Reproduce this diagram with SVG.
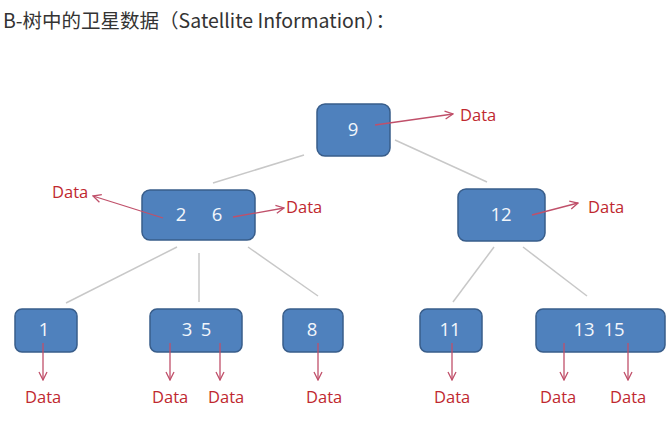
<svg xmlns="http://www.w3.org/2000/svg" width="671" height="429" viewBox="0 0 671 429">
<defs>
<marker id="ah" viewBox="0 0 10 10" refX="9" refY="5" markerWidth="10" markerHeight="10" markerUnits="userSpaceOnUse" orient="auto">
<path d="M1,1 L9,5 L1,9" fill="none" stroke="#c0506a" stroke-width="1.3"/>
</marker>
</defs>
<style>
.node rect{fill:#4f81bd;stroke:#385d8a;stroke-width:1.5}
.node text{fill:#f2f6fb;font-family:"Open Sans","Liberation Sans",sans-serif;font-size:18.5px;text-anchor:middle}
.edge{stroke:#c8c8c8;stroke-width:1.5;fill:none}
.ptr{stroke:#c0506a;stroke-width:1.3;fill:none;marker-end:url(#ah)}
.data{fill:#c0282f;font-family:"Open Sans","Liberation Sans",sans-serif;font-size:16.5px}
.title{fill:#333;font-family:"Noto Sans CJK SC","Open Sans",sans-serif;font-size:19.5px}
</style>
<rect width="671" height="429" fill="#fff"/>
<text class="title" x="3" y="28">B-树中的卫星数据（Satellite Information）：</text>
<g id="n9" class="node"><rect x="317" y="104" width="73" height="52" rx="8"/><text x="353" y="136">9</text></g>
<g id="n26" class="node"><rect x="142" y="190" width="113" height="50" rx="8"/><text x="181" y="221">2</text><text x="217" y="221">6</text></g>
<g id="n12" class="node"><rect x="458" y="189" width="87" height="52" rx="8"/><text x="501" y="221">12</text></g>
<g id="n1" class="node"><rect x="15" y="309" width="62" height="43" rx="7"/><text x="44" y="336">1</text></g>
<g id="n35" class="node"><rect x="150" y="309" width="92" height="43" rx="7"/><text x="187" y="336">3</text><text x="206" y="336">5</text></g>
<g id="n8" class="node"><rect x="283" y="309" width="60" height="43" rx="7"/><text x="312" y="336">8</text></g>
<g id="n11" class="node"><rect x="420" y="309" width="62" height="43" rx="7"/><text x="450" y="336">11</text></g>
<g id="n1315" class="node"><rect x="536" y="309" width="129" height="43" rx="7"/><text x="584" y="336">13</text><text x="614" y="336">15</text></g>
<g id="connectors">
<line class="edge" x1="304" y1="155" x2="213" y2="183"/>
<line class="edge" x1="395" y1="140" x2="487" y2="182"/>
<line class="edge" x1="177" y1="247" x2="66" y2="303"/>
<line class="edge" x1="199" y1="253" x2="199" y2="302"/>
<line class="edge" x1="248" y1="247" x2="318" y2="296"/>
<line class="edge" x1="494" y1="247" x2="453" y2="302"/>
<line class="edge" x1="523" y1="247" x2="587" y2="296"/>
<line class="ptr" x1="375" y1="125" x2="453" y2="114"/>
<line class="ptr" x1="163" y1="218" x2="93" y2="196"/>
<line class="ptr" x1="233" y1="217" x2="284" y2="208"/>
<line class="ptr" x1="532" y1="215" x2="578" y2="203"/>
<line class="ptr" x1="43" y1="343" x2="43" y2="380"/>
<line class="ptr" x1="170" y1="343" x2="170" y2="380"/>
<line class="ptr" x1="220" y1="343" x2="220" y2="380"/>
<line class="ptr" x1="318" y1="343" x2="318" y2="380"/>
<line class="ptr" x1="452" y1="343" x2="452" y2="380"/>
<line class="ptr" x1="564" y1="343" x2="564" y2="380"/>
<line class="ptr" x1="628" y1="343" x2="628" y2="380"/>
</g>
<g id="labels">
<text class="data" x="460" y="121">Data</text>
<text class="data" x="52" y="198">Data</text>
<text class="data" x="286" y="213">Data</text>
<text class="data" x="588" y="213">Data</text>
<text class="data" x="25" y="403">Data</text>
<text class="data" x="152" y="403">Data</text>
<text class="data" x="208" y="403">Data</text>
<text class="data" x="306" y="403">Data</text>
<text class="data" x="434" y="403">Data</text>
<text class="data" x="540" y="403">Data</text>
<text class="data" x="610" y="403">Data</text>
</g>
</svg>
